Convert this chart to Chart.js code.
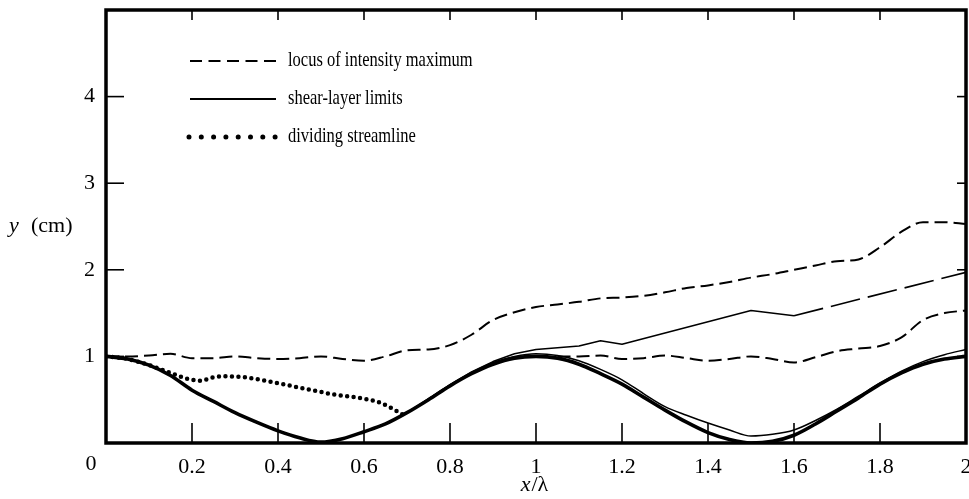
<!DOCTYPE html>
<html>
<head>
<meta charset="utf-8">
<script src="https://cdn.jsdelivr.net/npm/chart.js@4/dist/chart.umd.min.js"></script>
<style>
html,body{margin:0;padding:0;background:#fff;overflow:hidden}
#wrap{width:969px;height:499px;position:relative}
canvas{display:block}
</style>
</head>
<body>
<div id="wrap"><canvas id="c" width="969" height="499"></canvas></div>
<script>
// ---- tick labels ----
const xTickValues = [0.2, 0.4, 0.6, 0.8, 1.0, 1.2, 1.4, 1.6, 1.8, 2.0];
const xTickLabels = ['0.2', '0.4', '0.6', '0.8', '1', '1.2', '1.4', '1.6', '1.8', '2'];
const yTickValues = [1, 2, 3, 4];
const yTickLabels = ['1', '2', '3', '4'];
const originLabel = '0';
const xTitleVar = 'x';
const xTitleRest = '/λ';
const yTitleVar = 'y';
const yTitleRest = '(cm)';
const legendLabels = ['locus of intensity maximum', 'shear-layer limits', 'dividing streamline'];

// ---- wavy wall (thick solid) ----
const wallX = [0, 0.05, 0.1, 0.15, 0.2, 0.25, 0.3, 0.35, 0.4, 0.45, 0.5, 0.55, 0.6, 0.65, 0.7, 0.75, 0.8, 0.85, 0.9, 0.95, 1.0,
               1.05, 1.1, 1.15, 1.2, 1.25, 1.3, 1.35, 1.4, 1.45, 1.5, 1.55, 1.6, 1.65, 1.7, 1.75, 1.8, 1.85, 1.9, 1.95, 2.0];
const wallY = [1.00, 0.97, 0.90, 0.78, 0.61, 0.48, 0.35, 0.24, 0.14, 0.06, 0.01, 0.05, 0.13, 0.22, 0.35, 0.50, 0.66, 0.80, 0.91, 0.98, 1.00,
               0.98, 0.91, 0.80, 0.68, 0.53, 0.38, 0.24, 0.12, 0.04, 0.00, 0.02, 0.09, 0.22, 0.37, 0.52, 0.68, 0.81, 0.91, 0.97, 1.00];

// ---- lower shear-layer limit (thin solid) ----
const lowerX = [0.7, 0.75, 0.8, 0.85, 0.9, 0.95, 1.0, 1.05, 1.1, 1.15, 1.2, 1.25, 1.3, 1.35, 1.4, 1.45, 1.5, 1.55, 1.6, 1.65, 1.7, 1.75, 1.8, 1.85, 1.9, 1.95, 2.0];
const lowerY = [0.35, 0.51, 0.67, 0.81, 0.93, 1.00, 1.03, 1.01, 0.95, 0.85, 0.73, 0.57, 0.42, 0.32, 0.23, 0.15, 0.08, 0.10, 0.15, 0.26, 0.39, 0.54, 0.69, 0.83, 0.94, 1.02, 1.08];

// ---- upper shear-layer limit (thin solid) + its long-dash continuation ----
const upperX = [0.7, 0.75, 0.8, 0.85, 0.9, 0.95, 1.0, 1.05, 1.1, 1.15, 1.2, 1.3, 1.4, 1.5, 1.6];
const upperY = [0.35, 0.51, 0.67, 0.82, 0.94, 1.03, 1.08, 1.10, 1.12, 1.18, 1.14, 1.27, 1.40, 1.53, 1.47];
const upperExtX = [1.6, 2.0];
const upperExtY = [1.47, 1.97];

// ---- locus of intensity maximum (dashed) ----
const locusX = [0, 0.05, 0.1, 0.15, 0.2, 0.25, 0.3, 0.35, 0.4, 0.45, 0.5, 0.55, 0.6, 0.65, 0.7, 0.75, 0.8, 0.85, 0.9, 0.95, 1.0,
                1.05, 1.1, 1.15, 1.2, 1.25, 1.3, 1.35, 1.4, 1.45, 1.5, 1.55, 1.6, 1.65, 1.7, 1.75, 1.8, 1.85, 1.9, 1.95, 2.0];
const locusY = [1.00, 1.00, 1.01, 1.03, 0.98, 0.98, 1.00, 0.98, 0.97, 0.98, 1.00, 0.97, 0.95, 1.00, 1.07, 1.08, 1.13, 1.25, 1.42, 1.51, 1.57,
                1.60, 1.63, 1.67, 1.68, 1.70, 1.74, 1.79, 1.82, 1.86, 1.91, 1.95, 2.00, 2.05, 2.10, 2.12, 2.26, 2.44, 2.55, 2.55, 2.53];
const locus2X = [1.05, 1.1, 1.15, 1.2, 1.25, 1.3, 1.35, 1.4, 1.45, 1.5, 1.55, 1.6, 1.65, 1.7, 1.75, 1.8, 1.85, 1.9, 1.95, 2.0];
const locus2Y = [1.00, 1.00, 1.01, 0.97, 0.98, 1.01, 0.98, 0.95, 0.97, 1.00, 0.97, 0.93, 0.99, 1.06, 1.09, 1.12, 1.22, 1.42, 1.50, 1.53];

// ---- dividing streamline (dotted) ----
const divX = [0.0, 0.05, 0.1, 0.15, 0.19, 0.22, 0.25, 0.28, 0.32, 0.37, 0.41, 0.47, 0.53, 0.59, 0.64, 0.69];
const divY = [1.00, 0.97, 0.90, 0.81, 0.74, 0.72, 0.76, 0.77, 0.76, 0.72, 0.68, 0.62, 0.56, 0.52, 0.46, 0.33];

const zip = (xs, ys) => xs.map((x, i) => ({x: x, y: ys[i]}));
const INK = '#000';
const SERIF = '"Liberation Serif", "DejaVu Serif", serif';

const base = {borderColor: INK, backgroundColor: INK, pointRadius: 0, fill: false};

const datasets = [
  Object.assign({}, base, {label: 'wall', data: zip(wallX, wallY), borderWidth: 3.6, cubicInterpolationMode: 'monotone'}),
  Object.assign({}, base, {label: 'lower limit', data: zip(lowerX, lowerY), borderWidth: 1.5, cubicInterpolationMode: 'monotone'}),
  Object.assign({}, base, {label: 'upper limit', data: zip(upperX, upperY), borderWidth: 1.6, tension: 0}),
  Object.assign({}, base, {label: 'upper limit ext', data: zip(upperExtX, upperExtY), borderWidth: 1.6, borderDash: [30, 8]}),
  Object.assign({}, base, {label: 'locus', data: zip(locusX, locusY), borderWidth: 2, borderDash: [13, 6], cubicInterpolationMode: 'monotone'}),
  Object.assign({}, base, {label: 'locus 2', data: zip(locus2X, locus2Y), borderWidth: 2, borderDash: [13, 6], cubicInterpolationMode: 'monotone'}),
  Object.assign({}, base, {label: 'dividing', data: zip(divX, divY), borderWidth: 4.5, borderDash: [0, 6.5], borderCapStyle: 'round', cubicInterpolationMode: 'monotone'})
];

function near(v, arr) {
  for (let i = 0; i < arr.length; i++) if (Math.abs(arr[i] - v) < 1e-6) return i;
  return -1;
}

function seg(ctx, x1, y1, x2, y2) {
  ctx.beginPath(); ctx.moveTo(x1, y1); ctx.lineTo(x2, y2); ctx.stroke();
}

function stretchedText(ctx, text, x, y, font, sy) {
  ctx.save();
  ctx.font = font;
  ctx.translate(x, y);
  ctx.scale(1, sy);
  ctx.fillText(text, 0, 0);
  ctx.restore();
}

const decor = {
  id: 'decor',
  afterDatasetsDraw(chart) {
    const ctx = chart.ctx, a = chart.chartArea, xs = chart.scales.x, ys = chart.scales.y;
    ctx.save();
    ctx.strokeStyle = INK;
    ctx.fillStyle = INK;
    ctx.lineCap = 'butt';
    // inward tick marks
    ctx.lineWidth = 1.6;
    xTickValues.forEach(v => {
      if (v >= 2) return;
      const px = xs.getPixelForValue(v);
      seg(ctx, px, a.bottom, px, a.bottom - 20);
      seg(ctx, px, a.top, px, a.top + 10);
    });
    yTickValues.forEach(v => {
      const py = ys.getPixelForValue(v);
      seg(ctx, a.left, py, a.left + 18, py);
      seg(ctx, a.right, py, a.right - 9, py);
    });
    // frame
    ctx.lineWidth = 3.5;
    ctx.strokeRect(a.left, a.top, a.right - a.left, a.bottom - a.top);

    // origin label
    ctx.font = '22px ' + SERIF;
    ctx.textAlign = 'center';
    ctx.textBaseline = 'middle';
    ctx.fillText(originLabel, a.left - 15, a.bottom + 21);

    // x axis title
    ctx.textAlign = 'left';
    ctx.font = 'italic 22px ' + SERIF;
    const w1 = ctx.measureText(xTitleVar).width;
    ctx.font = '22px ' + SERIF;
    const w2 = ctx.measureText(xTitleRest).width;
    const cx = xs.getPixelForValue(1.0) - 2;
    let sx = cx - (w1 + w2) / 2;
    ctx.font = 'italic 22px ' + SERIF;
    ctx.fillText(xTitleVar, sx, 485);
    ctx.font = '22px ' + SERIF;
    ctx.fillText(xTitleRest, sx + w1 + 1, 485);

    // y axis title (horizontal)
    ctx.font = 'italic 22px ' + SERIF;
    ctx.fillText(yTitleVar, 9, 226);
    ctx.font = '22px ' + SERIF;
    ctx.fillText(yTitleRest, 31, 226);

    // legend
    const lx1 = 190, lx2 = 276, tx = 288;
    const rows = [61, 99, 137];
    ctx.lineWidth = 2;
    ctx.setLineDash([12, 6.5]);
    seg(ctx, lx1, rows[0], lx2, rows[0]);
    ctx.setLineDash([]);
    seg(ctx, lx1, rows[1], lx2, rows[1]);
    ctx.lineCap = 'round';
    ctx.lineWidth = 5;
    ctx.setLineDash([0, 12.3]);
    seg(ctx, lx1 - 1, rows[2], lx2 + 1, rows[2]);
    ctx.setLineDash([]);
    ctx.lineCap = 'butt';
    ctx.textBaseline = 'middle';
    ctx.textAlign = 'left';
    legendLabels.forEach((t, i) => stretchedText(ctx, t, tx, rows[i], '16.5px ' + SERIF, 1.25));
    ctx.restore();
  }
};

new Chart(document.getElementById('c'), {
  type: 'line',
  data: {datasets: datasets},
  options: {
    responsive: false,
    animation: false,
    devicePixelRatio: 1,
    layout: {padding: {left: 0, top: 10, right: 3, bottom: 0}},
    plugins: {legend: {display: false}, tooltip: {enabled: false}, title: {display: false}},
    elements: {line: {borderJoinStyle: 'round'}},
    scales: {
      x: {
        type: 'linear', min: 0, max: 2,
        grid: {display: false, drawTicks: false},
        border: {display: false},
        ticks: {
          stepSize: 0.2, autoSkip: false, maxRotation: 0, padding: 11, color: INK,
          font: {family: SERIF, size: 22},
          callback: (v) => { const i = near(v, xTickValues); return i >= 0 ? xTickLabels[i] : ''; }
        },
        afterFit: (s) => { s.height = 56; s.paddingLeft = 0; s.paddingRight = 0; }
      },
      y: {
        type: 'linear', min: 0, max: 5,
        grid: {display: false, drawTicks: false},
        border: {display: false},
        ticks: {
          stepSize: 1, autoSkip: false, padding: 11, color: INK,
          font: {family: SERIF, size: 22},
          callback: (v) => { const i = near(v, yTickValues); return i >= 0 ? yTickLabels[i] : ''; }
        },
        afterFit: (s) => { s.width = 106; s.paddingTop = 0; s.paddingBottom = 0; }
      }
    }
  },
  plugins: [decor]
});
</script>
</body>
</html>
